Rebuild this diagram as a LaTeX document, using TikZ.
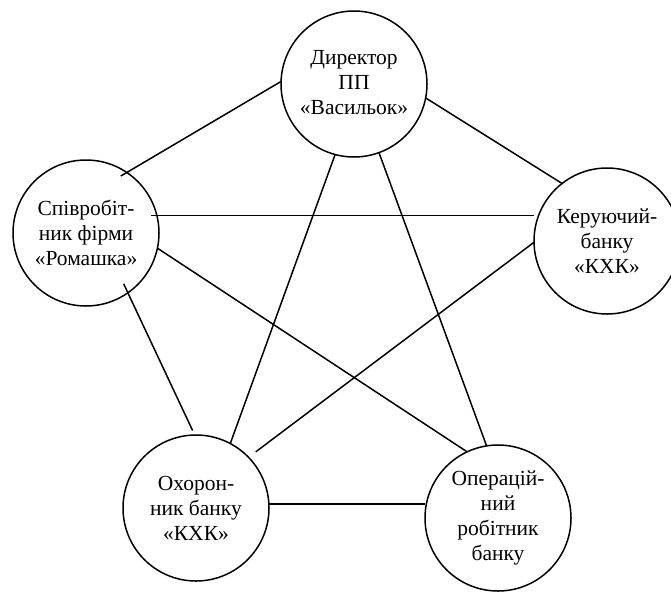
\documentclass[tikz,border=0pt]{standalone}
\usepackage{fontspec}
\setmainfont{Liberation Serif}
\begin{document}
\begin{tikzpicture}[x=1pt,y=-1pt,
  person/.style={circle,draw,line width=1.5pt,minimum size=146pt,inner sep=0pt,outer sep=0pt,
    align=center,font=\fontsize{21.5}{25}\selectfont},
  link/.style={line width=1.5pt}]
\useasboundingbox (0,0) rectangle (671,595);
% participants
\node[person] (dir) at (354,84) {\raisebox{6pt}{\begin{tabular}{@{}c@{}}Директор\\ПП\\«Васильок»\end{tabular}}};
\node[person] (rom) at (86,233) {Співробіт-\\ник фірми\\«Ромашка»};
\node[person] (ker) at (607,241) {Керуючий-\\банку\\«КХК»};
\node[person] (okh) at (196,508) {Охорон-\\ник банку\\«КХК»};
\node[person] (op)  at (498,518) {Операцій-\\ний\\робітник\\банку};
% relations
\draw[link,shorten >=-7pt] (dir.178.5) -- (rom.56);
\draw[link] (dir.-11.5) -- (ker.128.3);
\draw[link,shorten <=-6pt] (rom.14) -- (rom.14 -| ker.west);
\draw[link] (rom.-12.7) -- (op.115.9);
\draw[link,shorten <=-10pt,shorten >=5pt] (rom.-55.3) -- (okh.91.5);
\draw[link] (dir.255) -- (okh.62.7);
\draw[link] (dir.-70.9) -- (op.99);
\draw[link,shorten >=9pt] (ker.181.6) -- (okh.44);
\draw[link] ([yshift=4pt]okh.east) -- ([yshift=4pt]okh.east -| op.west);
\end{tikzpicture}
\end{document}
